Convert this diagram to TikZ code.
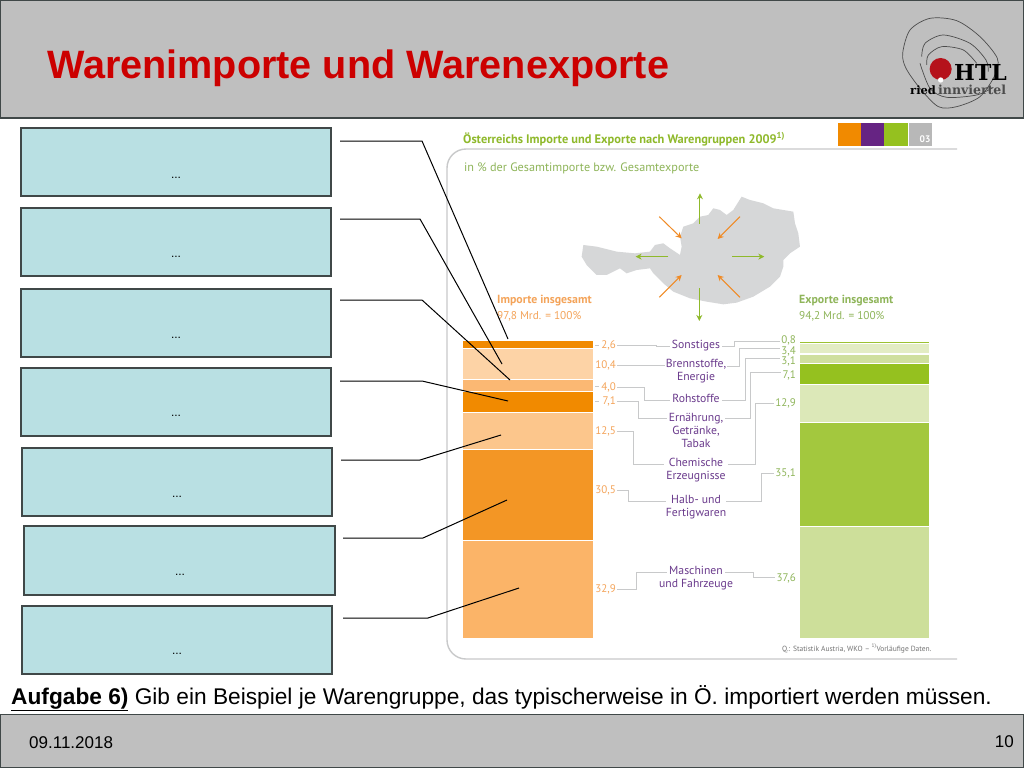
\documentclass[tikz,border=0pt]{standalone}
\usepackage{fontspec}
\setmainfont{Liberation Sans}
\newfontfamily\din{PT Sans}
\newfontfamily\logoserif{DejaVu Serif}
\usetikzlibrary{arrows.meta}
\definecolor{hdr}{HTML}{BFBFBF}
\definecolor{edge}{HTML}{404848}
\definecolor{boxfill}{HTML}{B9E0E3}
\definecolor{titlered}{HTML}{CC0000}
\definecolor{frameg}{HTML}{C8C9CA}
\definecolor{mapg}{HTML}{D6D7D8}
\definecolor{orA}{HTML}{F18A00}
\definecolor{orB}{HTML}{FDD3A6}
\definecolor{orC}{HTML}{FBB873}
\definecolor{orD}{HTML}{FCC68C}
\definecolor{orE}{HTML}{F39625}
\definecolor{orF}{HTML}{FBB468}
\definecolor{grA}{HTML}{9CC232}
\definecolor{grB}{HTML}{E3ECC4}
\definecolor{grC}{HTML}{CFDF9E}
\definecolor{grD}{HTML}{95C11F}
\definecolor{grE}{HTML}{DCE8B8}
\definecolor{grF}{HTML}{A3C83E}
\definecolor{grG}{HTML}{CDDF9A}
\definecolor{txtor}{HTML}{F4A45A}
\definecolor{txtgr}{HTML}{8FB55A}
\definecolor{txtpu}{HTML}{6A3A8C}
\definecolor{arrgr}{HTML}{8FB92B}
\definecolor{arror}{HTML}{F08A24}
\definecolor{squarepu}{HTML}{662483}
\definecolor{logored}{HTML}{B5121B}
\tikzset{
  band/.style={inner sep=0pt,outer sep=0pt},
  answerbox/.style={draw=edge,line width=1.2pt,fill=boxfill},
  dots/.style={font=\fontsize{12}{12}\selectfont,inner sep=0pt},
  leader/.style={draw=black,line width=1pt},
  valor/.style={font=\din\fontsize{11}{11}\selectfont,text=txtor,anchor=east,inner sep=1pt},
  valgr/.style={font=\din\fontsize{11}{11}\selectfont,text=txtgr,anchor=east,inner sep=1pt},
  cat/.style={font=\din\fontsize{11.7}{13}\selectfont,text=txtpu,align=center,anchor=north,inner sep=0pt},
  route/.style={draw=frameg,line width=1pt},
  chartgr/.style={font=\din\fontsize{11.3}{12}\selectfont,text=txtgr,anchor=base west,inner sep=0pt},
  chartor/.style={font=\din\fontsize{11.3}{12}\selectfont,text=txtor,anchor=base west,inner sep=0pt},
  maparrow/.style={line width=1pt,-{Stealth[length=6pt,width=6pt]}},
  logoline/.style={draw=black!70,line width=0.7pt},
}
\begin{document}
\begin{tikzpicture}[x=1pt,y=-1pt]
\useasboundingbox (0,0) rectangle (1024,768);
\fill[white] (0,0) rectangle (1024,768);
% header and footer
\draw[draw=edge,line width=1.2pt,fill=hdr] (0.5,0.5) rectangle (1023.5,118);
\draw[draw=edge,line width=1.2pt,fill=hdr] (0.5,714.5) rectangle (1023.5,767.5);
\node[anchor=base west,inner sep=0pt,text=titlered,font=\bfseries\fontsize{39.6}{40}\selectfont] (title) at (47,78) {Warenimporte und Warenexporte};
\node[anchor=base west,inner sep=0pt,font=\fontsize{17}{20}\selectfont] (date) at (29,748) {09.11.2018};
\node[anchor=base east,inner sep=0pt,font=\fontsize{17}{20}\selectfont] (page) at (1014,747) {10};
\node[anchor=base west,inner sep=0pt,font=\fontsize{22.7}{24}\selectfont] (task) at (11,704) {\underline{\textbf{Aufgabe 6)}} Gib ein Beispiel je Warengruppe, das typischerweise in Ö. importiert werden müssen.};
% logo
\begin{scope}[shift={(880,0)},x=0.3333pt,y=-0.3333pt]
\draw[logoline] plot[smooth cycle] coordinates {(68,160) (90,90) (150,55) (230,62) (300,110) (352,175) (345,225) (300,290) (230,320) (175,320) (120,265) (78,205)};
\draw[logoline] plot[smooth] coordinates {(125,170) (135,130) (190,105) (270,130) (318,180) (325,215)};
\draw[logoline] plot[smooth] coordinates {(140,195) (145,165) (185,140) (250,150) (290,190)};
\draw[logoline] plot[smooth] coordinates {(120,190) (150,265) (200,292) (290,285) (340,262)};
\fill[logored] (182,207) circle (33);
\fill[white] (182,240) circle (8);
\end{scope}
\node[anchor=base west,inner sep=0pt,font=\logoserif\bfseries\fontsize{22}{22}\selectfont] (htl) at (954,80) {HTL};
\node[anchor=base west,inner sep=0pt,font=\logoserif\bfseries\fontsize{11.5}{12}\selectfont] (ried) at (910,94) {ried};
\node[anchor=base west,inner sep=0pt,text=black!70,font=\logoserif\bfseries\fontsize{12.5}{13}\selectfont] (inn) at (938,94) {innviertel};
% answer boxes
\draw[answerbox] (21,128) rectangle (331,196);
\draw[answerbox] (21,208) rectangle (331,276);
\draw[answerbox] (21,289) rectangle (331,357);
\draw[answerbox] (21,368) rectangle (331,436);
\draw[answerbox] (22,448) rectangle (332,516);
\draw[answerbox] (24,526) rectangle (335,595);
\draw[answerbox] (22,606) rectangle (332,674);
\node[dots] (d1) at (176,178) {...};
\node[dots] (d2) at (176,257) {...};
\node[dots] (d3) at (176,338) {...};
\node[dots] (d4) at (176,416) {...};
\node[dots] (d5) at (177,497) {...};
\node[dots] (d6) at (180,575) {...};
\node[dots] (d7) at (177,654) {...};
% chart frame
\draw[frameg,line width=1.4pt,rounded corners=19pt] (957,149) -- (447,149) -- (447,659) -- (957,659);
\fill[orA] (838,123) rectangle (861,146);
\fill[squarepu] (861,123) rectangle (884,146);
\fill[grD] (884,123) rectangle (908,146);
\fill[black!28] (909,123) rectangle (932,146);
\node[inner sep=0pt,text=white,font=\din\bfseries\fontsize{9.5}{10}\selectfont] (n03) at (925,139) {03};
\node[chartgr,font=\din\bfseries\fontsize{12.4}{13}\selectfont,text=arrgr] (ct) at (463,143) {Österreichs Importe und Exporte nach Warengruppen 2009\textsuperscript{1)}};
\node[chartgr,font=\din\fontsize{12.2}{13}\selectfont] (cs) at (464,171) {in \% der Gesamtimporte bzw. Gesamtexporte};
\node[chartor,font=\din\bfseries\fontsize{11.8}{12}\selectfont] (imp) at (497,303) {Importe insgesamt};
\node[chartor] (impv) at (497,319) {97,8 Mrd. = 100\%};
\node[chartgr,font=\din\bfseries\fontsize{11.8}{12}\selectfont] (exp) at (799,303) {Exporte insgesamt};
\node[chartgr] (expv) at (799,319) {94,2 Mrd. = 100\%};
\node[anchor=base west,inner sep=0pt,text=black!55,font=\din\fontsize{7.5}{8}\selectfont] (src) at (782,651) {Q.: Statistik Austria, WKO – \textsuperscript{1)}Vorläufige Daten.};
% map
\begin{scope}[shift={(450,120)},x=0.3333pt,y=-0.3333pt]
\fill[mapg] (395,410) -- (400,375) -- (440,380) -- (500,395) -- (555,400) -- (600,395) -- (615,375) -- (640,370) -- (660,385) -- (690,405) -- (695,380) -- (690,350) -- (700,320) -- (730,310) -- (750,290) -- (775,285) -- (790,265) -- (810,270) -- (830,285) -- (850,270) -- (875,230) -- (900,240) -- (940,250) -- (970,265) -- (1000,270) -- (1030,275) -- (1035,310) -- (1045,340) -- (1050,380) -- (1020,400) -- (1000,420) -- (1000,440) -- (990,470) -- (960,500) -- (910,530) -- (860,548) -- (820,553) -- (770,545) -- (720,535) -- (670,515) -- (640,490) -- (610,460) -- (600,445) -- (560,450) -- (530,460) -- (510,445) -- (470,465) -- (440,465) -- (410,435) -- cycle;
\draw[maparrow,arror] (628,290) -- (695,355);
\draw[maparrow,arror] (870,290) -- (803,357);
\draw[maparrow,arror] (628,532) -- (695,465);
\draw[maparrow,arror] (870,532) -- (803,465);
\draw[maparrow,arrgr] (750,312) -- (750,220);
\draw[maparrow,arrgr] (748,505) -- (748,603);
\draw[maparrow,arrgr] (655,410) -- (557,410);
\draw[maparrow,arrgr] (847,410) -- (943,410);
\end{scope}
% import bars
\fill[orA] (463,341.3) rectangle (593,348.3);
\fill[orB] (463,349.3) rectangle (593,379.3);
\fill[orC] (463,380) rectangle (593,390.7);
\fill[orA] (463,392.3) rectangle (593,412);
\fill[orD] (463,413.3) rectangle (593,449.3);
\fill[orE] (463,450) rectangle (593,540);
\fill[orF] (463,541.3) rectangle (593,638);
% export bars
\fill[grA] (800,341.7) rectangle (929,343.3);
\fill[grB] (800,344) rectangle (929,353);
\fill[grC] (800,354.7) rectangle (929,363.3);
\fill[grD] (800,364) rectangle (929,383.7);
\fill[grE] (800,384.7) rectangle (929,422.3);
\fill[grF] (800,423) rectangle (929,525.7);
\fill[grG] (800,527.3) rectangle (929,638);
% values
\node[valor] (i1) at (617,345) {2,6};
\node[valor] (i2) at (617,365) {10,4};
\node[valor] (i3) at (617,387) {4,0};
\node[valor] (i4) at (617,401) {7,1};
\node[valor] (i5) at (617,431) {12,5};
\node[valor] (i6) at (617,490) {30,5};
\node[valor] (i7) at (617,589) {32,9};
\node[valgr] (e1) at (797,340) {0,8};
\node[valgr] (e2) at (797,351) {3,4};
\node[valgr] (e3) at (797,361) {3,1};
\node[valgr] (e4) at (797,375) {7,1};
\node[valgr] (e5) at (797,403) {12,9};
\node[valgr] (e6) at (797,473) {35,1};
\node[valgr] (e7) at (797,578) {37,6};
% bar ticks
\coordinate (bi1) at (593,345); \coordinate (bi3) at (593,386.5); \coordinate (bi4) at (593,401);
\draw[route] (bi1) ++(2,0) -- ++(4,0);
\draw[route] (bi3) ++(2,0) -- ++(4,0);
\draw[route] (bi4) ++(2,0) -- ++(4,0);
% categories
\node[cat] (c1) at (696,340) {Sonstiges};
\node[cat] (c2) at (696,359) {Brennstoffe,\\Energie};
\node[cat] (c3) at (696,394) {Rohstoffe};
\node[cat] (c4) at (696,413) {Ernährung,\\Getränke,\\Tabak};
\node[cat] (c5) at (696,458) {Chemische\\Erzeugnisse};
\node[cat] (c6) at (696,495) {Halb- und\\Fertigwaren};
\node[cat] (c7) at (696,566) {Maschinen\\und Fahrzeuge};
% routes left
\draw[route] (i1.east) -- ++(39,0) |- ([yshift=-6pt,xshift=-2pt]c1.north west);
\draw[route] (i2.east) -- ++(33,0) |- ([yshift=-6.5pt,xshift=-1pt]c2.north west);
\draw[route] (i3.east) -- ++(27,0) |- ([yshift=-6pt,xshift=-2pt]c3.north west);
\draw[route] (i4.east) -- ++(21,0) |- ([yshift=-5pt,xshift=-2pt]c4.north west);
\draw[route] (i5.east) -- ++(16,0) |- ([yshift=-6pt,xshift=-2pt]c5.north west);
\draw[route] (i6.east) -- ++(11,0) |- ([yshift=-6pt]c6.north west);
\draw[route] (i7.east) -- ++(19,0) |- ([yshift=-6pt,xshift=8pt]c7.north west);
% routes right
\draw[route] ([yshift=-6pt,xshift=2pt]c1.north east) -| (734,341.7) -- (e1.west |- 0,341.7);
\draw[route] ([yshift=-7pt,xshift=1pt]c2.north east) -| (739.3,348.7) -- (e2.west |- 0,348.7);
\draw[route] ([yshift=-6pt,xshift=2pt]c3.north east) -| (745,358.3) -- (e3.west |- 0,358.3);
\draw[route] ([yshift=-5pt,xshift=2pt]c4.north east) -| (750,372.7) -- (e4.west |- 0,372.7);
\draw[route] ([yshift=-6pt,xshift=2pt]c5.north east) -| (755.7,403.3) -- (e5.west |- 0,403.3);
\draw[route] ([yshift=-6pt]c6.north east) -| (761.7,473.3) -- (e6.west |- 0,473.3);
\draw[route] ([yshift=-6pt,xshift=-8pt]c7.north east) -| (753.3,577.7) -- (e7.west |- 0,577.7);
% leaders
\coordinate (s1) at (340,141); \coordinate (k1) at (422,141); \coordinate (t1) at (508,339);
\coordinate (s2) at (340,219); \coordinate (k2) at (420,219); \coordinate (t2) at (502,364);
\coordinate (s3) at (340,300); \coordinate (k3) at (422,300); \coordinate (t3) at (510,380);
\coordinate (s4) at (340,381); \coordinate (k4) at (422,381); \coordinate (t4) at (508,401);
\coordinate (s5) at (341,460); \coordinate (k5) at (420,460); \coordinate (t5) at (501,435);
\coordinate (s6) at (343,538); \coordinate (k6) at (423,538); \coordinate (t6) at (507,500);
\coordinate (s7) at (343,618); \coordinate (k7) at (428,618); \coordinate (t7) at (519,588);
\foreach \i in {1,...,7} {\draw[leader] (s\i) -- (k\i) -- (t\i);}
\end{tikzpicture}
\end{document}
